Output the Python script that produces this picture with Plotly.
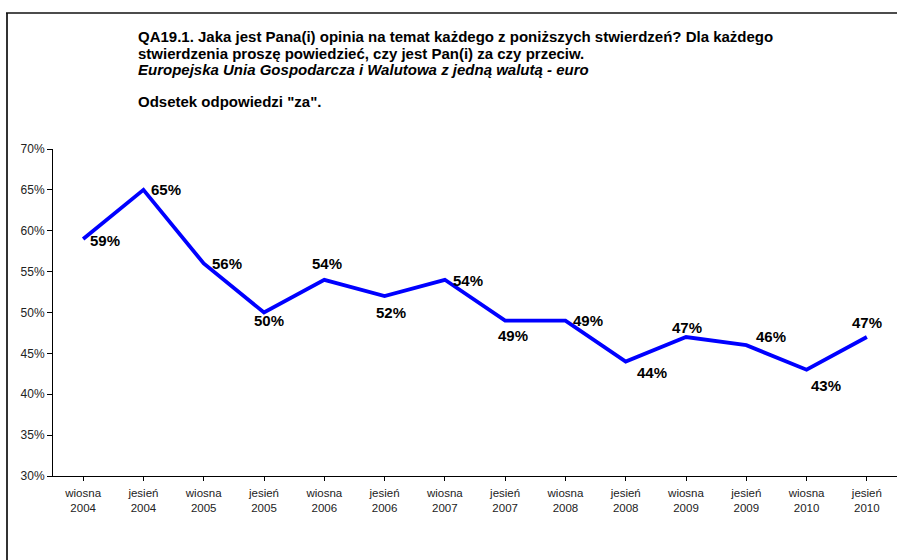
import plotly.graph_objects as go

seasons = ["wiosna", "jesień"] * 7
years = ["2004", "2004", "2005", "2005", "2006", "2006", "2007", "2007",
         "2008", "2008", "2009", "2009", "2010", "2010"]
categories = [f"{s}<br>{y}" for s, y in zip(seasons, years)]
values = [59, 65, 56, 50, 54, 52, 54, 49, 49, 44, 47, 46, 43, 47]
label_texts = [f"{v}%" for v in values]
# label offsets in px (xshift, yshift)
label_offsets = [(22, -2), (23, 0), (23, 0), (5, -8), (3, 16), (6, -16), (23, -1),
                 (8, -15), (23, 0), (26, -11), (1, 10), (25, 9), (19, -16), (0, 15)]

title_lines = [
    ("<b>QA19.1. Jaka jest Pana(i) opinia na temat każdego z poniższych stwierdzeń? Dla każdego</b>", 37),
    ("<b>stwierdzenia proszę powiedzieć, czy jest Pan(i) za czy przeciw.</b>", 53),
    ("<b><i>Europejska Unia Gospodarcza i Walutowa z jedną walutą - euro</i></b>", 69),
    ("<b>Odsetek odpowiedzi \"za\".</b>", 101),
]

L, T, R, B = 53, 149, 0, 84
W, H = 897, 560
pw, ph = W - L - R, H - T - B

def px_x(x):
    return (x - L) / pw

def px_y(y):
    return (H - B - y) / ph

fig = go.Figure()
fig.add_trace(go.Scatter(
    x=list(range(len(values))), y=[v / 100 for v in values],
    mode="lines", line=dict(color="#0000ff", width=3.8),
    hoverinfo="skip", showlegend=False, cliponaxis=False,
))

annotations = []
for i, (t, (dx, dy)) in enumerate(zip(label_texts, label_offsets)):
    annotations.append(dict(
        x=i, y=values[i] / 100, xref="x", yref="y", text=f"<b>{t}</b>",
        showarrow=False, xshift=dx, yshift=dy, xanchor="center", yanchor="middle",
        font=dict(family="Liberation Sans, Arial", size=15, color="#000000"),
    ))
for txt, py in title_lines:
    annotations.append(dict(
        x=px_x(136), y=px_y(py), xref="paper", yref="paper", text=txt,
        showarrow=False, xanchor="left", yanchor="middle", align="left",
        font=dict(family="Liberation Sans, Arial", size=15, color="#000000"),
    ))

shapes = [
    dict(type="line", xref="paper", yref="paper", x0=px_x(7), x1=px_x(7),
         y0=px_y(13), y1=px_y(565), line=dict(color="#333333", width=2)),
    dict(type="line", xref="paper", yref="paper", x0=px_x(6), x1=px_x(905),
         y0=px_y(13), y1=px_y(13), line=dict(color="#111111", width=1.5)),
]

fig.update_layout(
    width=W, height=H,
    margin=dict(l=L, r=R, t=T, b=B, pad=0),
    paper_bgcolor="white", plot_bgcolor="white",
    showlegend=False,
    annotations=annotations, shapes=shapes,
    font=dict(family="Liberation Sans, Arial", size=12, color="#222222"),
    xaxis=dict(
        tickmode="array", tickvals=list(range(len(values))), ticktext=categories,
        range=[-0.5, len(values) - 0.5], showgrid=False, zeroline=False,
        showline=True, linecolor="#000000", linewidth=1,
        ticks="outside", ticklen=4, tickcolor="#000000", tickson="boundaries",
        tickfont=dict(size=11.5, color="#222222"), ticklabelstandoff=2,
    ),
    yaxis=dict(
        range=[0.30, 0.70], tickvals=[0.30, 0.35, 0.40, 0.45, 0.50, 0.55, 0.60, 0.65, 0.70],
        tickformat=".0%", showgrid=False, zeroline=False,
        showline=True, linecolor="#000000", linewidth=1,
        ticks="outside", ticklen=5, tickcolor="#000000",
        tickfont=dict(size=12, color="#222222"),
    ),
)

fig.write_html(
    "out.html",
    config={"displayModeBar": False},
    post_script="document.body.style.margin='0';document.body.style.overflow='hidden';",
)
